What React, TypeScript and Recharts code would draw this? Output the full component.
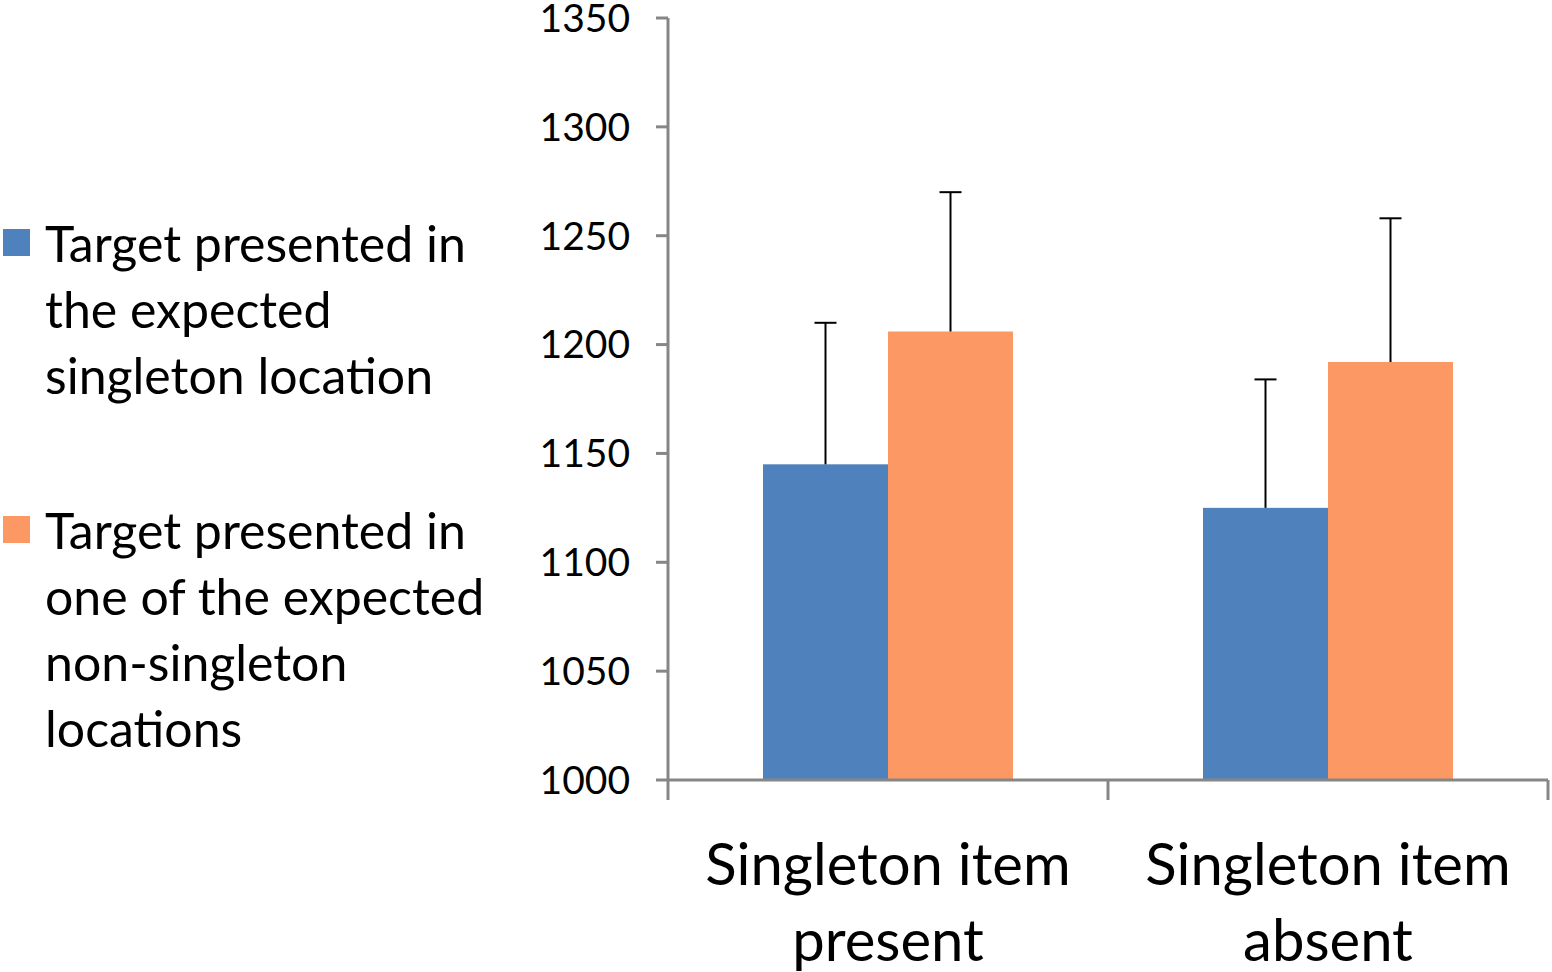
import React from "react";
import { BarChart, Bar, XAxis, YAxis, Legend } from "recharts";

// Reaction times (ms)
const categories = ["Singleton item present", "Singleton item absent"];
const categoryLines = [
  ["Singleton item", "present"],
  ["Singleton item", "absent"],
];
const expectedRT = [1145, 1125];
const expectedErr = [65, 59];
const nonSingletonRT = [1206, 1192];
const nonSingletonErr = [64, 66];
const yTicks = [1000, 1050, 1100, 1150, 1200, 1250, 1300, 1350];

const seriesKeys = ["expected", "other"];
const seriesNames = [
  "Target presented in the expected singleton location",
  "Target presented in one of the expected non-singleton locations",
];
const seriesLines = [
  ["Target presented in", "the expected", "singleton location"],
  ["Target presented in", "one of the expected", "non-singleton", "locations"],
];

const data = categories.map((c, i) => ({
  category: c,
  expected: expectedRT[i],
  expectedErr: expectedErr[i],
  other: nonSingletonRT[i],
  otherErr: nonSingletonErr[i],
}));

const W = 1552;
const H = 972;
const MARGIN = { top: 18, right: 4, bottom: 12, left: 548 };
const Y_AXIS_W = 120;
const PLOT_W = W - MARGIN.left - MARGIN.right - Y_AXIS_W;
const AXIS_GREY = "#868686";
const FONT = "Lato, 'Open Sans', sans-serif";
const BLUE = "#4F81BD";
const ORANGE = "#FB9863";

function BarWithError(props: any) {
  const { x, y, width, height, fill, payload, valueKey, errKey } = props;
  const value = payload[valueKey];
  const k = height / (value - yTicks[0]);
  const errPx = payload[errKey] * k;
  const cx = x + width / 2;
  return (
    <g>
      <rect x={x} y={y} width={width} height={height} fill={fill} />
      <line x1={cx} y1={y} x2={cx} y2={y - errPx} stroke="#000" strokeWidth={2} />
      <line x1={cx - 11} y1={y - errPx} x2={cx + 11} y2={y - errPx} stroke="#000" strokeWidth={2} />
    </g>
  );
}

// category labels centred, tick marks on the band edges (Excel style)
function CategoryTick(props: any) {
  const { x, y, payload } = props;
  const half = PLOT_W / categories.length / 2;
  const lines = categoryLines[payload.index] ?? [String(payload.value)];
  const last = payload.index === categories.length - 1;
  return (
    <g>
      <line x1={x - half} y1={y} x2={x - half} y2={y + 20} stroke={AXIS_GREY} strokeWidth={3} />
      {last && <line x1={x + half} y1={y} x2={x + half} y2={y + 20} stroke={AXIS_GREY} strokeWidth={3} />}
      {lines.map((l, i) => (
        <text
          key={i}
          x={x}
          y={y + 82 + i * 76}
          textAnchor="middle"
          dominantBaseline="central"
          fontSize={58}
          fontFamily={FONT}
          fill="#000"
        >
          {l}
        </text>
      ))}
    </g>
  );
}

function SideLegend({ payload }: any) {
  const items = [...(payload ?? [])].sort(
    (a: any, b: any) => seriesKeys.indexOf(a.dataKey) - seriesKeys.indexOf(b.dataKey)
  );
  return (
    <div style={{ fontFamily: FONT, fontSize: 50, color: "#000", lineHeight: "66px" }}>
      {items.map((p: any, i: number) => {
        const idx = seriesKeys.indexOf(p.dataKey);
        return (
          <div key={p.dataKey} style={{ position: "relative", paddingLeft: 45, marginTop: i === 0 ? 0 : 89 }}>
            <span
              style={{
                position: "absolute",
                left: 3,
                top: 19,
                width: 27,
                height: 27,
                background: p.color,
              }}
            />
            {seriesLines[idx].map((l, j) => (
              <div key={j} style={{ whiteSpace: "nowrap" }}>
                {l}
              </div>
            ))}
          </div>
        );
      })}
    </div>
  );
}

export default function App() {
  return (
    <div style={{ position: "fixed", left: 0, top: 0, width: W, height: H, background: "#fff" }}>
      <BarChart width={W} height={H} data={data} margin={MARGIN} barCategoryGap={95} barGap={0}>
        <XAxis
          dataKey="category"
          height={180}
          axisLine={{ stroke: AXIS_GREY, strokeWidth: 3 }}
          tickLine={false}
          tickSize={0}
          tickMargin={0}
          interval={0}
          tick={(p: any) => <CategoryTick {...p} />}
        />
        <YAxis
          width={Y_AXIS_W}
          domain={[yTicks[0], yTicks[yTicks.length - 1]]}
          ticks={yTicks}
          interval={0}
          axisLine={{ stroke: AXIS_GREY, strokeWidth: 3 }}
          tickLine={{ stroke: AXIS_GREY, strokeWidth: 3 }}
          tickSize={12}
          tickMargin={26}
          tick={{ fill: "#000", fontSize: 39, fontFamily: FONT }}
        />
        <Legend
          layout="horizontal"
          verticalAlign="middle"
          align="center"
          wrapperStyle={{ left: 0, top: 210, width: 500 }}
          content={(p: any) => <SideLegend {...p} />}
        />
        <Bar
          dataKey="expected"
          name={seriesNames[0]}
          fill={BLUE}
          isAnimationActive={false}
          shape={(p: any) => <BarWithError {...p} valueKey="expected" errKey="expectedErr" />}
        />
        <Bar
          dataKey="other"
          name={seriesNames[1]}
          fill={ORANGE}
          isAnimationActive={false}
          shape={(p: any) => <BarWithError {...p} valueKey="other" errKey="otherErr" />}
        />
      </BarChart>
    </div>
  );
}
